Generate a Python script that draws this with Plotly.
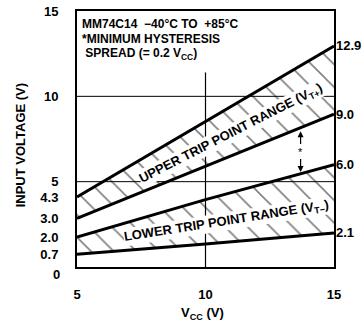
import plotly.graph_objects as go
import numpy as np

# ---- data ----
vcc = [5, 10, 15]
upper_max = [4.1, 8.5, 12.95]   # top of upper trip point range
upper_min = [2.85, 5.9, 8.95]   # bottom of upper trip point range
lower_max = [1.75, 3.95, 6.0]   # top of lower trip point range
lower_min = [0.75, 1.35, 2.0]   # bottom of lower trip point range

left_tick_text = ["0", "0.7", "2.0", "3.0", "4.3", "5", "10", "15"]
right_tick_text = ["12.9", "9.0", "6.0", "2.1"]
x_ticks = [5, 10, 15]

FONT = "Liberation Sans Narrow, Arial Narrow, Liberation Sans, sans-serif"
TXT = dict(family=FONT, size=13, color="black", weight="bold")
INFO_TXT = dict(family=FONT, size=12, color="black", weight="bold")

fig = go.Figure()

line_style = dict(color="black", width=3)
hatch = dict(shape="\\", fgcolor="black", bgcolor="rgba(0,0,0,0)", size=16, solidity=0.1)

# lower band
fig.add_trace(go.Scatter(x=vcc, y=lower_min, mode="lines", line=line_style, showlegend=False))
fig.add_trace(go.Scatter(x=vcc, y=lower_max, mode="lines", line=line_style, fill="tonexty",
                         fillcolor="rgba(0,0,0,0)", fillpattern=hatch, showlegend=False))
# upper band
fig.add_trace(go.Scatter(x=vcc, y=upper_min, mode="lines", line=line_style, showlegend=False))
fig.add_trace(go.Scatter(x=vcc, y=upper_max, mode="lines", line=line_style, fill="tonexty",
                         fillcolor="rgba(0,0,0,0)", fillpattern=hatch, showlegend=False))

# grid lines
for yv in [5, 10]:
    fig.add_shape(type="line", x0=5, x1=15, y0=yv, y1=yv, line=dict(color="black", width=1), layer="below")
fig.add_shape(type="line", x0=10, x1=10, y0=0, y1=11.4, line=dict(color="black", width=1.2), layer="below")

y_tickvals = [0, lower_min[0], lower_max[0], upper_min[0], upper_max[0], 5, 10, 15]

fig.update_xaxes(range=[5, 15], tickvals=x_ticks, ticktext=[str(v) for v in x_ticks],
                 showgrid=False, zeroline=False, showline=True, linecolor="black", linewidth=2,
                 mirror=True, ticks="", ticklabelstandoff=14, tickfont=TXT, automargin=False)
# the "0" label sits a little below the axis, drawn as an annotation below
fig.update_yaxes(range=[0, 15], tickvals=y_tickvals[1:], ticktext=left_tick_text[1:],
                 showgrid=False, zeroline=False, showline=True, linecolor="black", linewidth=2,
                 mirror=True, ticks="", ticklabelstandoff=14, tickfont=TXT, automargin=False)

ann = []
ann.append(dict(x=0, y=y_tickvals[0], xref="paper", yref="y", text=left_tick_text[0], showarrow=False,
                xanchor="right", yanchor="middle", xshift=-15, yshift=-7, font=TXT))
# right side labels at line end values
for val, txt in zip([upper_max[-1], upper_min[-1], lower_max[-1], lower_min[-1]], right_tick_text):
    ann.append(dict(x=15, y=val, xref="x", yref="y", text=txt, showarrow=False,
                    xanchor="left", yanchor="middle", xshift=0, font=TXT))

# info text
info = ["MM74C14  \u221240\u00b0C TO  +85\u00b0C", "*MINIMUM HYSTERESIS",
        " SPREAD (= 0.2 V<sub>CC</sub>)"]
info_y = [0.951, 0.891, 0.831]
for t, yy in zip(info, info_y):
    ann.append(dict(x=0.015, y=yy, xref="paper", yref="paper", text=t, showarrow=False,
                    xanchor="left", yanchor="middle", font=INFO_TXT, borderpad=0))

# band labels
ann.append(dict(x=11.0, y=7.85, xref="x", yref="y", text="UPPER TRIP POINT RANGE (V<sub>T+</sub>)",
                showarrow=False, textangle=-27, font=TXT, bgcolor="white", borderpad=0))
ann.append(dict(x=10.8, y=2.65, xref="x", yref="y", text="LOWER TRIP POINT RANGE (V<sub>T\u2212</sub>)",
                showarrow=False, textangle=-9, font=TXT, bgcolor="white", borderpad=0))

# hysteresis arrow
xa = 13.7
y_top = float(np.interp(xa, vcc, upper_min)) - 0.2
y_bot = float(np.interp(xa, vcc, lower_max)) + 0.1
y_mid = (y_top + y_bot) / 2
for yt in [y_top, y_bot]:
    ann.append(dict(x=xa, y=yt, ax=xa, ay=y_mid + (0.35 if yt > y_mid else -0.35),
                    xref="x", yref="y", axref="x", ayref="y", text="", showarrow=True,
                    arrowhead=2, arrowsize=1, arrowwidth=1.2, arrowcolor="black"))
ann.append(dict(x=xa, y=y_mid, xref="x", yref="y", text="*", showarrow=False,
                font=dict(family=FONT, size=11, color="black")))

# axis titles
ann.append(dict(x=-0.222, y=0.475, xref="paper", yref="paper", text="INPUT VOLTAGE (V)",
                textangle=-90, showarrow=False, font=TXT, xanchor="center", yanchor="middle"))
ann.append(dict(x=0.49, y=-0.18, xref="paper", yref="paper", text="V<sub>CC</sub> (V)",
                showarrow=False, font=TXT, xanchor="center", yanchor="middle"))

fig.update_layout(width=363, height=326, margin=dict(l=77, r=29, t=11, b=59),
                  plot_bgcolor="white", paper_bgcolor="white", annotations=ann,
                  font=dict(family=FONT, color="black"))

# remove the default page margin so the figure fills the window exactly
fig.write_html("out.html", config={"displayModeBar": False},
               post_script="document.body.style.margin='0';")
